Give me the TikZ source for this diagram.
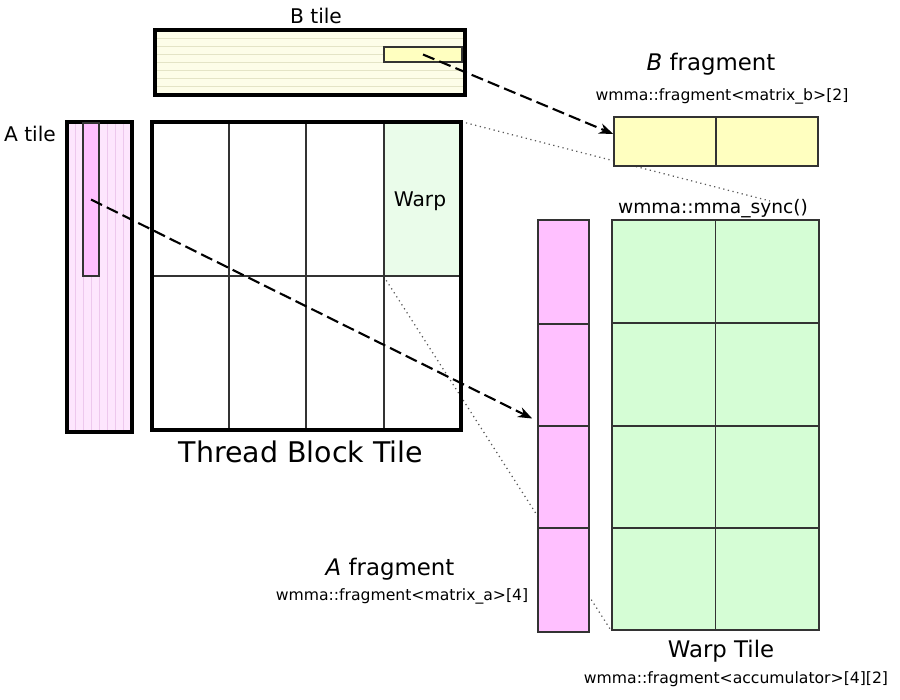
\documentclass[tikz,border=0pt]{standalone}
\usepackage{fontspec}
\setmainfont{DejaVu Sans}
\usetikzlibrary{backgrounds,arrows.meta}
\usepackage{color}

\definecolor{btilefill}{HTML}{FDFDE8}
\definecolor{btileline}{HTML}{E4E4C6}
\definecolor{atilefill}{HTML}{FDE6FD}
\definecolor{atileline}{HTML}{EDC8ED}
\definecolor{bfragfill}{HTML}{FFFFC0}
\definecolor{afragfill}{HTML}{FFC0FF}
\definecolor{warpfill}{HTML}{EAFCEA}
\definecolor{accfill}{HTML}{D5FDD5}

\begin{document}
\begin{tikzpicture}
  [x=0.02cm,y=-0.02cm,
   outer/.style={rectangle,draw=black,line width=1.9pt,inner sep=0pt},
   frag/.style={rectangle,draw=black!80,line width=0.9pt,inner sep=0pt},
   cell/.style={draw=black!80,line width=0.6pt},
   lbl/.style={anchor=base,inner sep=0pt,font=\fontsize{11.5}{14}\selectfont},
   biglbl/.style={anchor=base,inner sep=0pt,font=\fontsize{13}{16}\selectfont},
   code/.style={anchor=base,inner sep=0pt,font=\fontsize{8.9}{11}\selectfont},
   load/.style={line width=1.2pt,dash pattern=on 7pt off 3pt,
     -{Stealth[length=8pt,width=6pt,inset=2.5pt]}},
   zoomline/.style={draw=black!65,line width=0.7pt,dotted}]
  \useasboundingbox (0,0) rectangle (900,700);

  % B tile
  \node[outer,fill=btilefill,minimum width=6.2cm,minimum height=1.3cm] (btile) at (310,62.5) {};
  \foreach \k in {1,...,7}
    \draw[btileline,line width=0.5pt] (157,{30+8.125*\k}) -- (463,{30+8.125*\k});
  \node[frag,fill=bfragfill,minimum width=1.56cm,minimum height=0.3cm] (bpiece) at (423,54.5) {};
  \node[lbl] (btilelbl) at (316,23) {B tile};

  % A tile
  \node[outer,fill=atilefill,minimum width=1.3cm,minimum height=6.2cm] (atile) at (99.5,277) {};
  \foreach \k in {1,...,7}
    \draw[atileline,line width=0.5pt] ({67+8.125*\k},124) -- ({67+8.125*\k},430);
  \node[frag,fill=afragfill,minimum width=0.32cm,minimum height=3.06cm] (apiece) at (91,199.5) {};
  \node[lbl] (atilelbl) at (30,141) {A tile};

  % thread block tile
  \node[rectangle,fill=warpfill,minimum width=1.54cm,minimum height=3.08cm] (warp) at (422.5,199) {};
  \foreach \x in {229,306,384}
    \draw[cell] (\x,122) -- (\x,430);
  \draw[cell] (152,276) -- (461,276);
  \node[outer,minimum width=6.18cm,minimum height=6.16cm] (block) at (306.5,276) {};
  \node[lbl] (warplbl) at (420,206) {Warp};
  \node[anchor=base,inner sep=0pt,font=\fontsize{16.2}{19}\selectfont] (blocklbl) at (301,462) {Thread Block Tile};

  % B fragment
  \node[frag,fill=bfragfill,minimum width=4.08cm,minimum height=0.98cm] (bfrag) at (716,141.5) {};
  \draw[cell] (bfrag.north) -- (bfrag.south);
  \node[biglbl] (bfraglbl) at (711,70) {\textit{B} fragment};
  \node[code] (bfragcode) at (722,100) {wmma::fragment<matrix\_b>[2]};

  % warp tile
  \node[frag,fill=accfill,minimum width=4.14cm,minimum height=8.2cm] (warptile) at (715.5,425) {};
  \draw[cell] (warptile.north) -- (warptile.south);
  \foreach \y in {323,426,528}
    \draw[cell] (612,\y) -- (819,\y);
  \node[lbl,font=\fontsize{10.6}{13}\selectfont] (synclbl) at (713,213) {wmma::mma\_sync()};
  \node[biglbl] (warptilelbl) at (721,657) {Warp Tile};
  \node[code] (acccode) at (736,683) {wmma::fragment<accumulator>[4][2]};

  % A fragment
  \node[frag,fill=afragfill,minimum width=1.02cm,minimum height=8.24cm] (afrag) at (563.5,426) {};
  \foreach \y in {324,426,528}
    \draw[cell] (538,\y) -- (589,\y);
  \node[biglbl] (afraglbl) at (390,575) {\textit{A} fragment};
  \node[code] (afragcode) at (402,600) {wmma::fragment<matrix\_a>[4]};

  % loads and zoom lines
  \coordinate (syncend) at (770,201);
  \draw[load] (bpiece.center) -- ([yshift=0.15cm]bfrag.west);
  \draw[load] (apiece.center) -- ([xshift=-0.1cm,yshift=0.15cm]afrag.west);
  \begin{pgfonlayer}{background}
    \draw[zoomline] (warp.north east) -- (syncend);
    \draw[zoomline] (warp.south west) -- (warptile.south west);
  \end{pgfonlayer}
\end{tikzpicture}
\end{document}
